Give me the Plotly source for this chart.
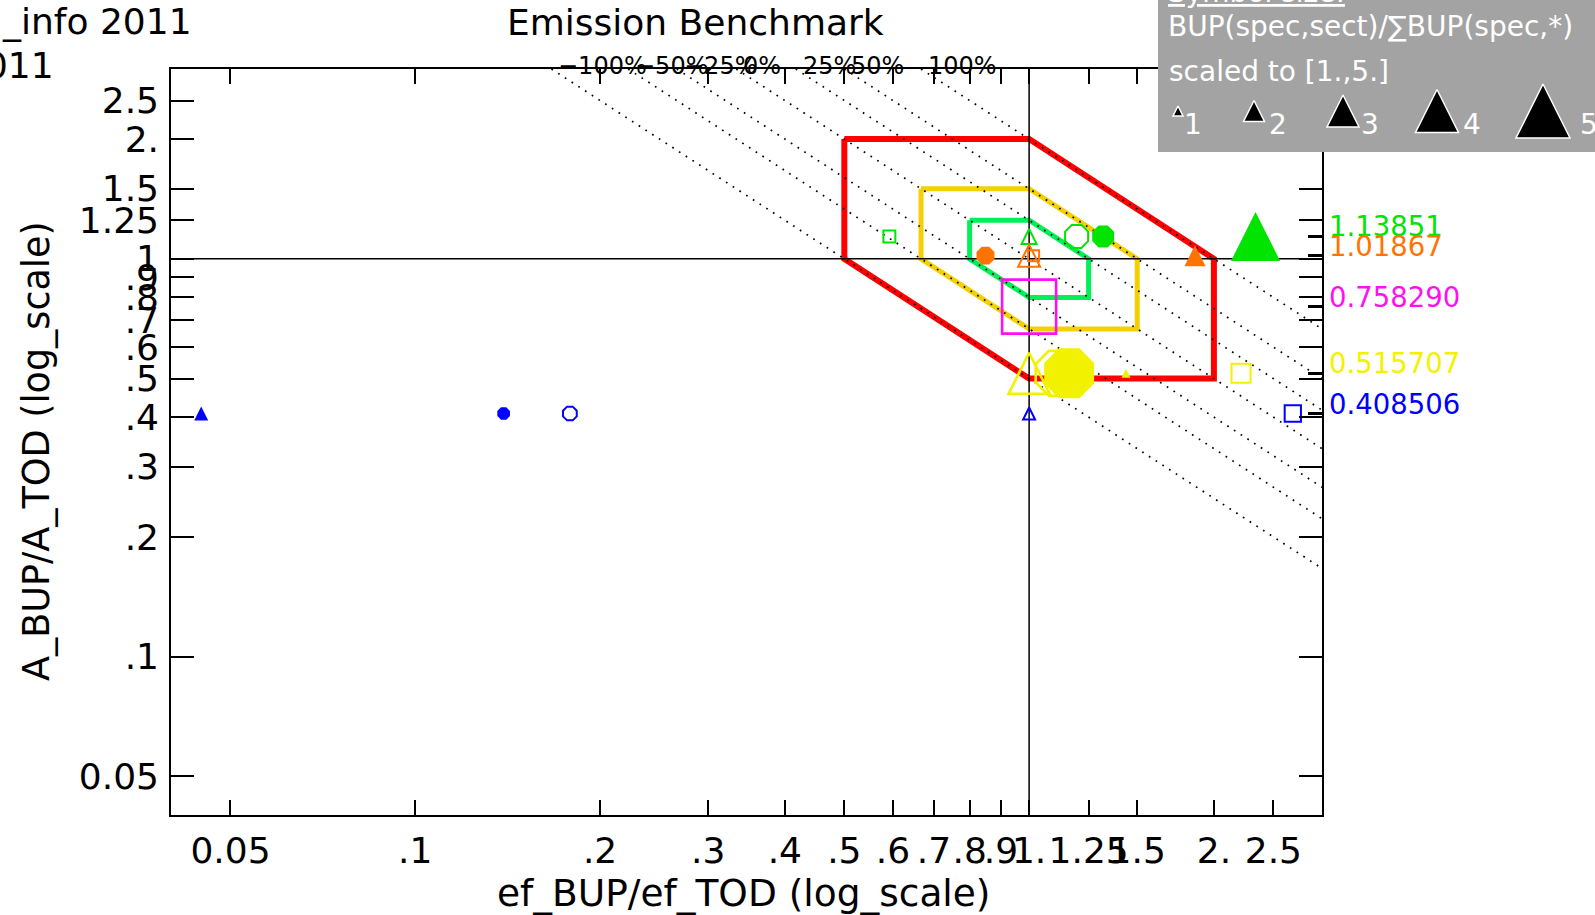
import math
import plotly.graph_objects as go

W, H = 1595, 915

# ---------------- data ----------------
X_RANGE = [0.04, 3.0]
Y_RANGE = [0.04, 3.0]

X_TICKVALS = [0.05, 0.1, 0.2, 0.3, 0.4, 0.5, 0.6, 0.7, 0.8, 0.9, 1.0, 1.25, 1.5, 2.0, 2.5]
X_TICKTEXT = ["0.05", ".1", ".2", ".3", ".4", ".5", ".6", ".7", ".8", ".9", "1.", "1.25", "1.5", "2.", "2.5"]
Y_TICKVALS = [0.05, 0.1, 0.2, 0.3, 0.4, 0.5, 0.6, 0.7, 0.8, 0.9, 1.0, 1.25, 1.5, 2.0, 2.5]
Y_TICKTEXT = ["0.05", ".1", ".2", ".3", ".4", ".5", ".6", ".7", ".8", ".9", "1", "1.25", "1.5", "2.", "2.5"]

# A_BUP/A_TOD per species (one value per species)
A_RATIO = [1.13851, 1.01867, 0.758290, 0.515707, 0.408506]
A_RATIO_LABELS = ["1.13851", "1.01867", "0.758290", "0.515707", "0.408506"]

# ef_BUP/ef_TOD per sector, symbol kind per sector, symbol size (scaled 1..5)
EF_GREEN = [0.592, 1.0, 1.195, 1.32, 2.338]
KIND_GREEN = ["square-open", "triangle-open", "circle-open", "circle", "triangle"]
SIZE_GREEN = [1.18, 1.45, 2.36, 2.25, 4.55]

EF_ORANGE = [0.849, 1.0, 1.017, 1.863]
KIND_ORANGE = ["circle", "triangle-open", "square-open", "triangle"]
SIZE_ORANGE = [1.86, 2.09, 1.09, 2.0]

EF_MAGENTA = [1.0]
KIND_MAGENTA = ["square-open"]
SIZE_MAGENTA = [5.0]

EF_YELLOW = [1.0, 1.115, 1.162, 1.438, 2.214]
KIND_YELLOW = ["triangle-open", "circle-open", "circle", "triangle", "square-open"]
SIZE_YELLOW = [3.82, 4.5, 5.0, 0.9, 1.82]

EF_BLUE = [0.0448, 0.1393, 0.1786, 1.0, 2.689]
KIND_BLUE = ["triangle", "circle", "circle-open", "triangle-open", "square-open"]
SIZE_BLUE = [1.36, 1.33, 1.44, 1.18, 1.57]

# benchmark bands (ratio envelopes)
BAND_RATIOS = [2.0, 1.5, 1.25]
# iso-emission lines (ef*A = factor) and their labels
ISO_FACTORS = [0.5, 2.0 / 3.0, 0.8, 1.0, 1.25, 1.5, 2.0]
ISO_LABELS = ["\u2212100%", "\u221250%", "\u221225%", "0%", "25%", "50%", "100%"]

LEGEND_SIZES = [1, 2, 3, 4, 5]
LEGEND_LABELS = ["1", "2", "3", "4", "5"]

# ---------------- styles ----------------
COL_GREEN = "#00e400"
COL_ORANGE = "#ff7400"
COL_MAGENTA = "#ff10f0"
COL_YELLOW = "#f2f200"
COL_BLUE = "#0000ff"
SPECIES_COLORS = [COL_GREEN, COL_ORANGE, COL_MAGENTA, COL_YELLOW, COL_BLUE]
BAND_COLORS = ["#ff0000", "#f4d000", "#00f055"]
BAND_WIDTHS = [6, 5, 5]
FONT = "DejaVu Sans"

XD = [171 / W, 1322 / W]
YD = [1 - 815 / H, 1 - 69 / H]
LOGX = [math.log10(v) for v in X_RANGE]
LOGY = [math.log10(v) for v in Y_RANGE]


def px_size(s):
    return 11 * s - 1


fig = go.Figure()

# benchmark polygons
for r, col, lw in zip(BAND_RATIOS, BAND_COLORS, BAND_WIDTHS):
    xs = [1 / r, 1, r, r, 1, 1 / r, 1 / r]
    ys = [r, r, 1, 1 / r, 1 / r, 1, r]
    fig.add_trace(go.Scatter(x=xs, y=ys, mode="lines",
                             line=dict(color=col, width=lw),
                             hoverinfo="skip", showlegend=False))

# iso-emission dotted lines
for c in ISO_FACTORS:
    fig.add_trace(go.Scatter(x=[c / Y_RANGE[1], X_RANGE[1]],
                             y=[Y_RANGE[1], c / X_RANGE[1]],
                             mode="lines",
                             line=dict(color="black", width=1.7, dash="1.7px,6.3px"),
                             hoverinfo="skip", showlegend=False))

# cross hair
fig.add_trace(go.Scatter(x=[1, 1], y=Y_RANGE, mode="lines",
                         line=dict(color="black", width=1.5),
                         hoverinfo="skip", showlegend=False))
fig.add_trace(go.Scatter(x=X_RANGE, y=[1, 1], mode="lines",
                         line=dict(color="black", width=1.5),
                         hoverinfo="skip", showlegend=False))


def marker_trace(ef, a, kinds, sizes, color):
    sym, size, ang, stand, lw = [], [], [], [], []
    for kind, s in zip(kinds, sizes):
        p = px_size(s)
        is_open = kind.endswith("-open")
        base = kind.replace("-open", "")
        if base == "triangle":
            sym.append("arrow-down-open" if is_open else "arrow-down")
            ang.append(180)
            stand.append(p / 2)
        elif base == "circle":
            sym.append("octagon-open" if is_open else "octagon")
            ang.append(0)
            stand.append(0)
        else:
            sym.append("square-open" if is_open else "square")
            ang.append(0)
            stand.append(0)
        size.append(p)
        lw.append((2.6 if p > 30 else 2) if is_open else 0)
    return go.Scatter(x=ef, y=[a] * len(ef), mode="markers",
                      marker=dict(symbol=sym, size=size, angle=ang, standoff=stand,
                                  opacity=1, color=color, line=dict(color=color, width=lw)),
                      hoverinfo="x+y", showlegend=False)


groups = [
    (EF_GREEN, KIND_GREEN, SIZE_GREEN),
    (EF_ORANGE, KIND_ORANGE, SIZE_ORANGE),
    (EF_MAGENTA, KIND_MAGENTA, SIZE_MAGENTA),
    (EF_YELLOW, KIND_YELLOW, SIZE_YELLOW),
    (EF_BLUE, KIND_BLUE, SIZE_BLUE),
]
for (ef, kinds, sizes), a, col in zip(groups, A_RATIO, SPECIES_COLORS):
    fig.add_trace(marker_trace(ef, a, kinds, sizes, col))

# invisible trace on the overlay axis carrying the bold value ticks
fig.add_trace(go.Scatter(x=[1], y=[1], yaxis="y2", mode="markers",
                         marker=dict(opacity=0), hoverinfo="skip", showlegend=False))

# ---------------- legend box (own axes, pixel-like units) ----------------
BOX = [1158, 1595, 0, 152]
fig.add_trace(go.Scatter(x=[BOX[0], BOX[1], BOX[1], BOX[0], BOX[0]],
                         y=[BOX[2], BOX[2], BOX[3], BOX[3], BOX[2]],
                         xaxis="x3", yaxis="y3", mode="lines", fill="toself",
                         fillcolor="#a3a3a3", line=dict(width=0, color="#a3a3a3"),
                         hoverinfo="skip", showlegend=False))
LEG_X = [1178, 1254, 1343, 1437, 1543]
LEG_LABEL_X = [1193, 1278, 1370, 1472, 1589]
LEG_Y = 111
fig.add_trace(go.Scatter(x=LEG_X, y=[LEG_Y] * len(LEG_X), xaxis="x3", yaxis="y3",
                         mode="markers",
                         marker=dict(symbol="arrow-down", angle=180, opacity=1,
                                     size=[px_size(s) for s in LEGEND_SIZES],
                                     standoff=[px_size(s) / 2 for s in LEGEND_SIZES],
                                     color="black", line=dict(color="white", width=1.5)),
                         hoverinfo="skip", showlegend=False))

annotations = []
# top-left info
annotations.append(dict(text="_info 2011", x=0, y=1 - 22 / H, xref="paper", yref="paper",
                        xanchor="left", yanchor="middle", showarrow=False,
                        font=dict(family=FONT, size=36, color="black")))
annotations.append(dict(text="2011", x=56 / W, y=1 - 66 / H, xref="paper", yref="paper",
                        xanchor="right", yanchor="middle", showarrow=False,
                        font=dict(family=FONT, size=36, color="black")))
# title
annotations.append(dict(text="Emission Benchmark", x=695 / W, y=1 - 23 / H, xref="paper", yref="paper",
                        xanchor="center", yanchor="middle", showarrow=False,
                        font=dict(family=FONT, size=36, color="black")))
# axis titles
annotations.append(dict(text="ef_BUP/ef_TOD (log_scale)", x=744 / W, y=1 - 893 / H,
                        xref="paper", yref="paper", xanchor="center", yanchor="middle",
                        showarrow=False, font=dict(family=FONT, size=37.5, color="black")))
annotations.append(dict(text="A_BUP/A_TOD (log_scale)", x=36 / W, y=1 - 451 / H,
                        xref="paper", yref="paper", xanchor="center", yanchor="middle",
                        textangle=-90, showarrow=False,
                        font=dict(family=FONT, size=36.5, color="black")))
# iso-line labels
for c, lab in zip(ISO_FACTORS, ISO_LABELS):
    annotations.append(dict(text=lab, x=math.log10(c / Y_RANGE[1]), y=YD[1], xref="x", yref="paper",
                            xanchor="left", yanchor="middle", xshift=5, yshift=3, showarrow=False,
                            font=dict(family=FONT, size=24, color="black")))
# value labels at right
for v, lab, col in zip(A_RATIO, A_RATIO_LABELS, SPECIES_COLORS):
    annotations.append(dict(text=lab, x=1327 / W, y=math.log10(v), xref="paper", yref="y",
                            xanchor="left", yanchor="middle", yshift=10, showarrow=False,
                            font=dict(family=FONT, size=27.5, color=col)))
# legend texts
annotations.append(dict(text="<u>Symbol size:</u>", x=1166 / W, y=1 + 7 / H, xref="paper", yref="paper",
                        xanchor="left", yanchor="middle", showarrow=False,
                        font=dict(family=FONT, size=28, color="white")))
annotations.append(dict(text="BUP(spec,sect)/\u2211BUP(spec,*)", x=1166 / W, y=1 - 26 / H,
                        xref="paper", yref="paper", xanchor="left", yanchor="middle", showarrow=False,
                        font=dict(family=FONT, size=28, color="white")))
annotations.append(dict(text="scaled to [1.,5.]", x=1167 / W, y=1 - 71 / H,
                        xref="paper", yref="paper", xanchor="left", yanchor="middle", showarrow=False,
                        font=dict(family=FONT, size=28, color="white")))
for lx, lab in zip(LEG_LABEL_X, LEGEND_LABELS):
    annotations.append(dict(text=lab, x=lx, y=124, xref="x3", yref="y3",
                            xanchor="center", yanchor="middle", showarrow=False,
                            font=dict(family=FONT, size=28, color="white")))

axis_common = dict(type="log", showgrid=False, zeroline=False, showline=True,
                   linecolor="black", linewidth=1.6, mirror="ticks", ticks="inside",
                   tickcolor="black", tickwidth=1.5, tickangle=0,
                   tickfont=dict(family=FONT, size=36, color="black"))

fig.update_layout(
    width=W, height=H,
    margin=dict(l=0, r=0, t=0, b=0, pad=0),
    paper_bgcolor="white", plot_bgcolor="rgba(0,0,0,0)",
    template="none",
    showlegend=False,
    font=dict(family=FONT, color="black"),
    xaxis=dict(axis_common, domain=XD, range=LOGX, tickmode="array",
               tickvals=X_TICKVALS, ticktext=X_TICKTEXT, ticklen=15,
               ticklabelstandoff=3, anchor="y"),
    yaxis=dict(axis_common, domain=YD, range=LOGY, tickmode="array",
               tickvals=Y_TICKVALS, ticktext=Y_TICKTEXT, ticklen=23,
               ticklabelstandoff=3, anchor="x"),
    yaxis2=dict(type="log", overlaying="y", side="right", anchor="x", range=LOGY,
                tickmode="array", tickvals=A_RATIO, ticks="inside", ticklen=14,
                tickwidth=3, tickcolor="black", showticklabels=False,
                showgrid=False, zeroline=False, showline=False),
    xaxis3=dict(domain=[BOX[0] / W, 1], range=[BOX[0], BOX[1]], visible=False,
                anchor="y3", fixedrange=True),
    yaxis3=dict(domain=[1 - BOX[3] / H, 1], range=[BOX[3], BOX[2]], visible=False,
                anchor="x3", fixedrange=True),
    annotations=annotations,
)

fig.write_html("out.html", config={"displayModeBar": False},
               post_script="document.body.style.margin='0px';")
